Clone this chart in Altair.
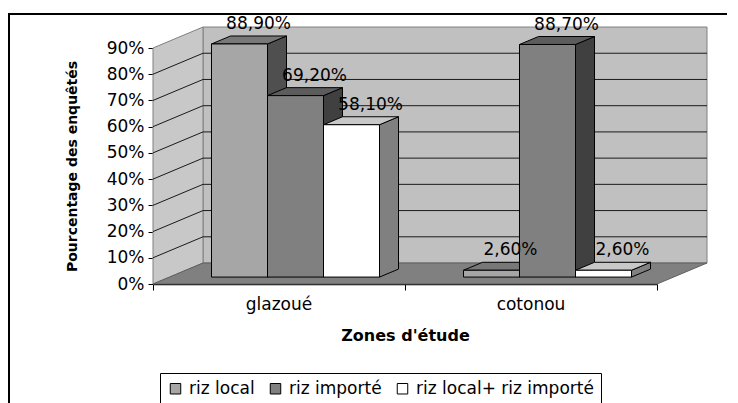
import altair as alt
import pandas as pd

# ---------------- data ----------------
zones = ["glazoué", "cotonou"]
series = ["riz local", "riz importé", "riz local+ riz importé"]
riz_local = [88.9, 2.6]
riz_importe = [69.2, 88.7]
riz_mixte = [58.1, 2.6]
series_values = [riz_local, riz_importe, riz_mixte]
y_ticks = [0, 10, 20, 30, 40, 50, 60, 70, 80, 90]

# ---------------- style ----------------
front_colors = ["#A6A6A6", "#808080", "#FFFFFF"]
top_colors = ["#787878", "#5C5C5C", "#C8C8C8"]
side_colors = ["#4F4F4F", "#404040", "#808080"]
FONT = "DejaVu Sans"

W, H = 504, 236
WALL_DX = 50 / 252.0   # depth shift in category units
WALL_DY = 8.0          # depth shift in percent units
BAR_F = 0.33           # depth of bar front face
BAR_D = 0.38           # bar depth
GROUP = 2.0 / 3.0
BW = GROUP / 3.0

xs = alt.Scale(domain=[0, 2], nice=False, zero=False)
ys = alt.Scale(domain=[0, 90], nice=False, zero=False)

AX_X = alt.Axis(
    values=[0, 1, 2], labels=False, grid=False, tickSize=6, tickColor="black",
    domainColor="black", domainWidth=1.5, title="Zones d'étude",
    titleFont=FONT, titleFontSize=16, titleFontWeight="bold", titleColor="black",
    titlePadding=37)
AX_Y = alt.Axis(
    values=y_ticks, labelExpr="datum.value + '%'", grid=False, tickSize=5,
    tickColor="black", domainColor="black", labelFont=FONT, labelFontSize=17,
    labelColor="black", labelPadding=4, title="Pourcentage des enquêtés",
    titleFont=FONT, titleFontSize=14, titleFontWeight="bold", titleColor="black",
    titleX=-81, titleY=118, titleAngle=270, titleAlign="center",
    titleBaseline="middle")


def X(f):
    return alt.X(f, scale=xs, axis=AX_X)


def Y(f):
    return alt.Y(f, scale=ys, axis=AX_Y)


# ---------------- geometry tables ----------------
fronts, sides, tops, labels = [], [], [], []
k = 0
for c, zone in enumerate(zones):
    for s, name in enumerate(series):
        v = series_values[s][c]
        x0 = c + (1 - GROUP) / 2 + s * BW + BAR_F * WALL_DX
        x1 = x0 + BW
        yb = BAR_F * WALL_DY
        yt = yb + v
        ddx, ddy = BAR_D * WALL_DX, BAR_D * WALL_DY
        fid = f"f{k:02d}"
        fronts.append(dict(id=fid, series=name, x=x0, x2=x1, y=yb, y2=yt))
        sides.append(dict(id=fid, fill=side_colors[s], x=x1, y=yb, y2=yt))
        sides.append(dict(id=fid, fill=side_colors[s], x=x1 + ddx, y=yb + ddy, y2=yt + ddy))
        tops.append(dict(id=fid, fill=top_colors[s], y=yt, x=x0, x2=x1))
        tops.append(dict(id=fid, fill=top_colors[s], y=yt + ddy, x=x0 + ddx, x2=x1 + ddx))
        labels.append(dict(x=(x0 + x1) / 2 + ddx, y=yt + ddy,
                           text=f"{v:.2f}".replace(".", ",") + "%"))
        k += 1

df_front = pd.DataFrame(fronts)
df_side = pd.DataFrame(sides)
df_top = pd.DataFrame(tops)
df_lab = pd.DataFrame(labels)
df_zone = pd.DataFrame({"zone": zones, "x": [i + 0.5 for i in range(len(zones))]})

df_back = pd.DataFrame([dict(x=WALL_DX, x2=2 + WALL_DX, y=WALL_DY, y2=90 + WALL_DY)])
df_sidewall = pd.DataFrame([dict(x=0, y=0, y2=90), dict(x=WALL_DX, y=WALL_DY, y2=90 + WALL_DY)])
df_floor = pd.DataFrame([dict(y=0, x=0, x2=2), dict(y=WALL_DY, x=WALL_DX, x2=2 + WALL_DX)])
inner = [t for t in y_ticks if 0 < t < 90]
df_grid_back = pd.DataFrame([dict(x=WALL_DX, x2=2 + WALL_DX, y=t + WALL_DY) for t in inner])
df_grid_side = pd.DataFrame([dict(x=0, x2=WALL_DX, y=t, y2=t + WALL_DY) for t in inner])

# ---------------- layers ----------------
frame = alt.Chart(pd.DataFrame({"a": [0]})).mark_rect(
    fillOpacity=0, stroke="black", strokeWidth=2
).encode(x=alt.value(-144), x2=alt.value(800), y=alt.value(-34), y2=alt.value(700))

back_wall = alt.Chart(df_back).mark_rect(
    fill="#C0C0C0", stroke="#808080", strokeWidth=1
).encode(x=X("x:Q"), x2="x2:Q", y=Y("y:Q"), y2="y2:Q")

side_wall = alt.Chart(df_sidewall).mark_area(
    fill="#C8C8C8", stroke="#808080", strokeWidth=1, orient="vertical"
).encode(x=X("x:Q"), y=Y("y:Q"), y2="y2:Q")

floor = alt.Chart(df_floor).mark_area(
    fill="#808080", stroke="#606060", strokeWidth=1, orient="horizontal"
).encode(y=Y("y:Q"), x=X("x:Q"), x2="x2:Q")

grid_back = alt.Chart(df_grid_back).mark_rule(color="#1a1a1a", strokeWidth=1).encode(
    x=X("x:Q"), x2="x2:Q", y=Y("y:Q"))

grid_side = alt.Chart(df_grid_side).mark_rule(color="#1a1a1a", strokeWidth=1).encode(
    x=X("x:Q"), x2="x2:Q", y=Y("y:Q"), y2="y2:Q")

side_faces = alt.Chart(df_side).mark_area(
    stroke="black", strokeWidth=1, orient="vertical"
).encode(x=X("x:Q"), y=Y("y:Q"), y2="y2:Q",
         detail="id:N", fill=alt.Fill("fill:N", scale=None))

top_faces = alt.Chart(df_top).mark_area(
    stroke="black", strokeWidth=1, orient="horizontal"
).encode(y=Y("y:Q"), x=X("x:Q"), x2="x2:Q",
         detail="id:N", fill=alt.Fill("fill:N", scale=None))

front_faces = alt.Chart(df_front).mark_rect(stroke="black", strokeWidth=1).encode(
    x=X("x:Q"), x2="x2:Q", y=Y("y:Q"), y2="y2:Q",
    color=alt.Color("series:N", sort=series,
                    scale=alt.Scale(domain=series, range=front_colors),
                    legend=alt.Legend(
                        orient="none", legendX=7, legendY=325, direction="horizontal",
                        title=None, strokeColor="black", fillColor="white", padding=7,
                        symbolType="square", symbolSize=110, symbolStrokeColor="black",
                        symbolStrokeWidth=1, labelFont=FONT, labelFontSize=17,
                        labelColor="black", labelLimit=0, columnPadding=12,
                        labelOffset=5)),
)

value_text = alt.Chart(df_lab).mark_text(
    font=FONT, fontSize=17, color="black", baseline="bottom", align="center", dy=-3
).encode(x=X("x:Q"), y=Y("y:Q"), text="text:N")

zone_text = alt.Chart(df_zone).mark_text(
    font=FONT, fontSize=17, color="black", baseline="middle", align="center"
).encode(x=X("x:Q"), y=alt.value(H + 21), text="zone:N")

chart = alt.layer(
    frame, back_wall, side_wall, floor, grid_back, grid_side,
    side_faces, top_faces, front_faces, value_text, zone_text
).properties(
    width=W, height=H,
    autosize=alt.AutoSizeParams(type="none"),
    padding={"left": 145, "top": 40, "right": 70, "bottom": 119},
).configure_view(stroke=None).configure(background="white")

chart.save("out.html", embed_options={"renderer": "svg", "actions": False})
